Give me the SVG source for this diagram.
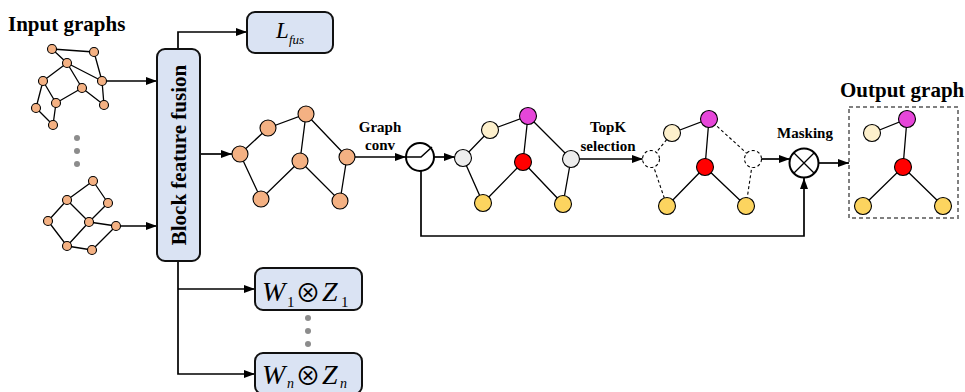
<svg xmlns="http://www.w3.org/2000/svg" width="965" height="392" viewBox="0 0 965 392">
<style>
.bold{font-family:"Liberation Serif","Times New Roman",serif;font-weight:bold;fill:#000}
.it{font-family:"Liberation Serif","DejaVu Serif",serif;font-style:italic;fill:#000}
.rm{font-family:"Liberation Serif","DejaVu Serif",serif;fill:#000}
.sym{font-family:"Noto Sans CJK JP","DejaVu Sans",sans-serif;font-weight:normal;fill:#000}
.e{stroke:#000;stroke-width:1.3;fill:none}
.d{stroke:#000;stroke-width:1.1;fill:none;stroke-dasharray:3 2.5}
.ar{stroke:#000;stroke-width:1.7;fill:none}
.n{fill:#f4b183;stroke:#000;stroke-width:1.1}
.g{fill:#ededed;stroke:#000;stroke-width:1.1}
.c{fill:#fdf0cc;stroke:#000;stroke-width:1.1}
.m{fill:#e646d9;stroke:#000;stroke-width:1.1}
.r{fill:#ff0000;stroke:#000;stroke-width:1.1}
.y{fill:#fcd45f;stroke:#000;stroke-width:1.1}
.x{fill:#fff;stroke:#000;stroke-width:1.1;stroke-dasharray:3 2.5}
.box{fill:#dae3f3;stroke:#111;stroke-width:2}
.dot{fill:#8c8c8c}
</style>
<defs>
<marker id="ah" markerUnits="userSpaceOnUse" markerWidth="11" markerHeight="8" refX="11" refY="4" orient="auto">
<path d="M0,0 L11,4 L0,8 z" fill="#000"/>
</marker>
</defs>

<g id="connectors">
<line class="ar" x1="107" y1="81" x2="157" y2="81" marker-end="url(#ah)"/>
<line class="ar" x1="120" y1="226" x2="157" y2="226" marker-end="url(#ah)"/>
<polyline class="ar" points="178,49 178,32 247,32" marker-end="url(#ah)"/>
<polyline class="ar" points="178,261 178,374 255,374" marker-end="url(#ah)"/>
<line class="ar" x1="178" y1="289" x2="255" y2="289" marker-end="url(#ah)"/>
<line class="ar" x1="200" y1="154" x2="232" y2="154" marker-end="url(#ah)"/>
<line class="ar" x1="355" y1="157" x2="406" y2="157" marker-end="url(#ah)"/>
<line class="ar" x1="434" y1="157" x2="455" y2="157" marker-end="url(#ah)"/>
<line class="ar" x1="580" y1="159" x2="643" y2="159" marker-end="url(#ah)"/>
<line class="ar" x1="760" y1="159" x2="790" y2="159" marker-end="url(#ah)"/>
<line class="ar" x1="819" y1="163" x2="849" y2="163" marker-end="url(#ah)"/>
<polyline class="ar" points="421,171 421,236 804,236 804,178" marker-end="url(#ah)"/>
</g>

<g id="input-label"><text class="bold" x="8" y="31" font-size="21">Input graphs</text></g>

<g id="input-graph-1">
<path class="e" d="M52,49 L94,52 M52,49 L67,63 M94,52 L102,81 M67,63 L43,81 M67,63 L82,88 M67,63 L102,81 M43,81 L56,103 M43,81 L36,108 M82,88 L56,103 M82,88 L104,105 M102,81 L104,105 M36,108 L53,125 M56,103 L53,125"/>
<circle class="n" cx="52" cy="49" r="4.5"/><circle class="n" cx="94" cy="52" r="4.5"/>
<circle class="n" cx="67" cy="63" r="4.5"/><circle class="n" cx="43" cy="81" r="4.5"/>
<circle class="n" cx="102" cy="81" r="4.5"/><circle class="n" cx="82" cy="88" r="4.5"/>
<circle class="n" cx="56" cy="103" r="4.5"/><circle class="n" cx="36" cy="108" r="4.5"/>
<circle class="n" cx="104" cy="105" r="4.5"/><circle class="n" cx="53" cy="125" r="4.5"/>
</g>

<g id="input-dots">
<circle class="dot" cx="77" cy="138" r="3"/><circle class="dot" cx="77" cy="151" r="3"/><circle class="dot" cx="77" cy="164" r="3"/>
</g>

<g id="input-graph-n">
<path class="e" d="M93,181 L67,200 M93,181 L108,203 M67,200 L48,221 M67,200 L89,222 M108,203 L89,222 M48,221 L67,246 M89,222 L67,246 M89,222 L116,226 M116,226 L92,250 M67,246 L92,250"/>
<circle class="n" cx="93" cy="181" r="4.5"/><circle class="n" cx="67" cy="200" r="4.5"/>
<circle class="n" cx="108" cy="203" r="4.5"/><circle class="n" cx="48" cy="221" r="4.5"/>
<circle class="n" cx="89" cy="222" r="4.5"/><circle class="n" cx="116" cy="226" r="4.5"/>
<circle class="n" cx="67" cy="246" r="4.5"/><circle class="n" cx="92" cy="250" r="4.5"/>
</g>

<g id="block-feature-fusion">
<rect class="box" x="157" y="49" width="43" height="212" rx="8"/>
<text class="bold" font-size="21" text-anchor="middle" transform="translate(185.5,155) rotate(-90)">Block feature fusion</text>
</g>

<g id="l-fus">
<rect class="box" x="247" y="12" width="86" height="41" rx="8"/>
<text class="it" x="276" y="38" font-size="23">L</text>
<text class="it" x="289" y="44" font-size="13">fus</text>
</g>

<g id="w1-z1">
<rect class="box" x="255" y="268" width="107" height="42" rx="8"/>
<text class="it" x="262" y="301" font-size="28">W</text>
<text class="rm" x="287" y="307" font-size="15">1</text>
<text class="sym" x="308" y="302" font-size="25" text-anchor="middle">⊗</text>
<text class="it" x="322" y="301" font-size="28">Z</text>
<text class="rm" x="341" y="307" font-size="15">1</text>
</g>

<g id="w-dots">
<circle class="dot" cx="308" cy="318" r="3"/><circle class="dot" cx="308" cy="331" r="3"/><circle class="dot" cx="308" cy="344" r="3"/>
</g>

<g id="wn-zn">
<rect class="box" x="255" y="353" width="107" height="41" rx="8"/>
<text class="it" x="262" y="384" font-size="28">W</text>
<text class="it" x="287" y="388" font-size="14">n</text>
<text class="sym" x="308" y="385" font-size="25" text-anchor="middle">⊗</text>
<text class="it" x="322" y="384" font-size="28">Z</text>
<text class="it" x="340" y="388" font-size="14">n</text>
</g>

<g id="fused-graph">
<path class="e" d="M240,154 L268,128 L306,114 L300,161 M306,114 L347,157 M240,154 L261,199 L300,161 L340,201 L347,157"/>
<circle class="n" cx="240" cy="154" r="8"/><circle class="n" cx="268" cy="128" r="8"/>
<circle class="n" cx="306" cy="114" r="8"/><circle class="n" cx="300" cy="161" r="8"/>
<circle class="n" cx="347" cy="157" r="8"/><circle class="n" cx="261" cy="199" r="8"/>
<circle class="n" cx="340" cy="201" r="8"/>
</g>

<g id="graph-conv-label">
<text class="bold" x="380" y="132" font-size="15" text-anchor="middle">Graph</text>
<text class="bold" x="380" y="150" font-size="15" text-anchor="middle">conv</text>
</g>

<g id="activation">
<circle cx="420" cy="157" r="14" fill="#fff" stroke="#000" stroke-width="2"/>
<polyline points="407,157 421,157 432,147" fill="none" stroke="#000" stroke-width="1.5"/>
</g>

<g id="scored-graph">
<path class="e" d="M463,158 L490,130 L528,116 L523,162 M528,116 L571,159 M463,158 L483,203 L523,162 L563,204 L571,159"/>
<circle class="g" cx="463" cy="158" r="8.5"/><circle class="c" cx="490" cy="130" r="8.5"/>
<circle class="m" cx="528" cy="116" r="8.5"/><circle class="r" cx="523" cy="162" r="8.5"/>
<circle class="g" cx="571" cy="159" r="8.5"/><circle class="y" cx="483" cy="203" r="8.5"/>
<circle class="y" cx="563" cy="204" r="8.5"/>
</g>

<g id="topk-label">
<text class="bold" x="608" y="132" font-size="15" text-anchor="middle">TopK</text>
<text class="bold" x="608" y="151" font-size="15" text-anchor="middle">selection</text>
</g>

<g id="selected-graph">
<path class="d" d="M651,159 L672,133 M709,119 L753,159 M651,159 L667,206 M753,159 L746,206"/>
<path class="e" d="M672,133 L709,119 L705,167 M667,206 L705,167 L746,206"/>
<circle class="x" cx="651" cy="159" r="8.5"/><circle class="c" cx="672" cy="133" r="8.5"/>
<circle class="m" cx="709" cy="119" r="8.5"/><circle class="r" cx="705" cy="167" r="8.5"/>
<circle class="x" cx="753" cy="159" r="8.5"/><circle class="y" cx="667" cy="206" r="8.5"/>
<circle class="y" cx="746" cy="206" r="8.5"/>
</g>

<g id="masking">
<text class="bold" x="805" y="138" font-size="15" text-anchor="middle">Masking</text>
<circle cx="804" cy="163" r="14.5" fill="#fff" stroke="#000" stroke-width="2"/>
<path d="M794,153 L814,173 M814,153 L794,173" stroke="#000" stroke-width="1.3"/>
</g>

<g id="output-graph">
<text class="bold" x="840" y="97" font-size="21">Output graph</text>
<rect x="849" y="107" width="109" height="111" fill="none" stroke="#808080" stroke-width="2" stroke-dasharray="4 3"/>
<path class="e" d="M872,133 L907,119 L903,167 L863,206 M903,167 L943,206"/>
<circle class="c" cx="872" cy="133" r="8.5"/><circle class="m" cx="907" cy="119" r="8.5"/>
<circle class="r" cx="903" cy="167" r="8.5"/><circle class="y" cx="863" cy="206" r="8.5"/>
<circle class="y" cx="943" cy="206" r="8.5"/>
</g>
</svg>
